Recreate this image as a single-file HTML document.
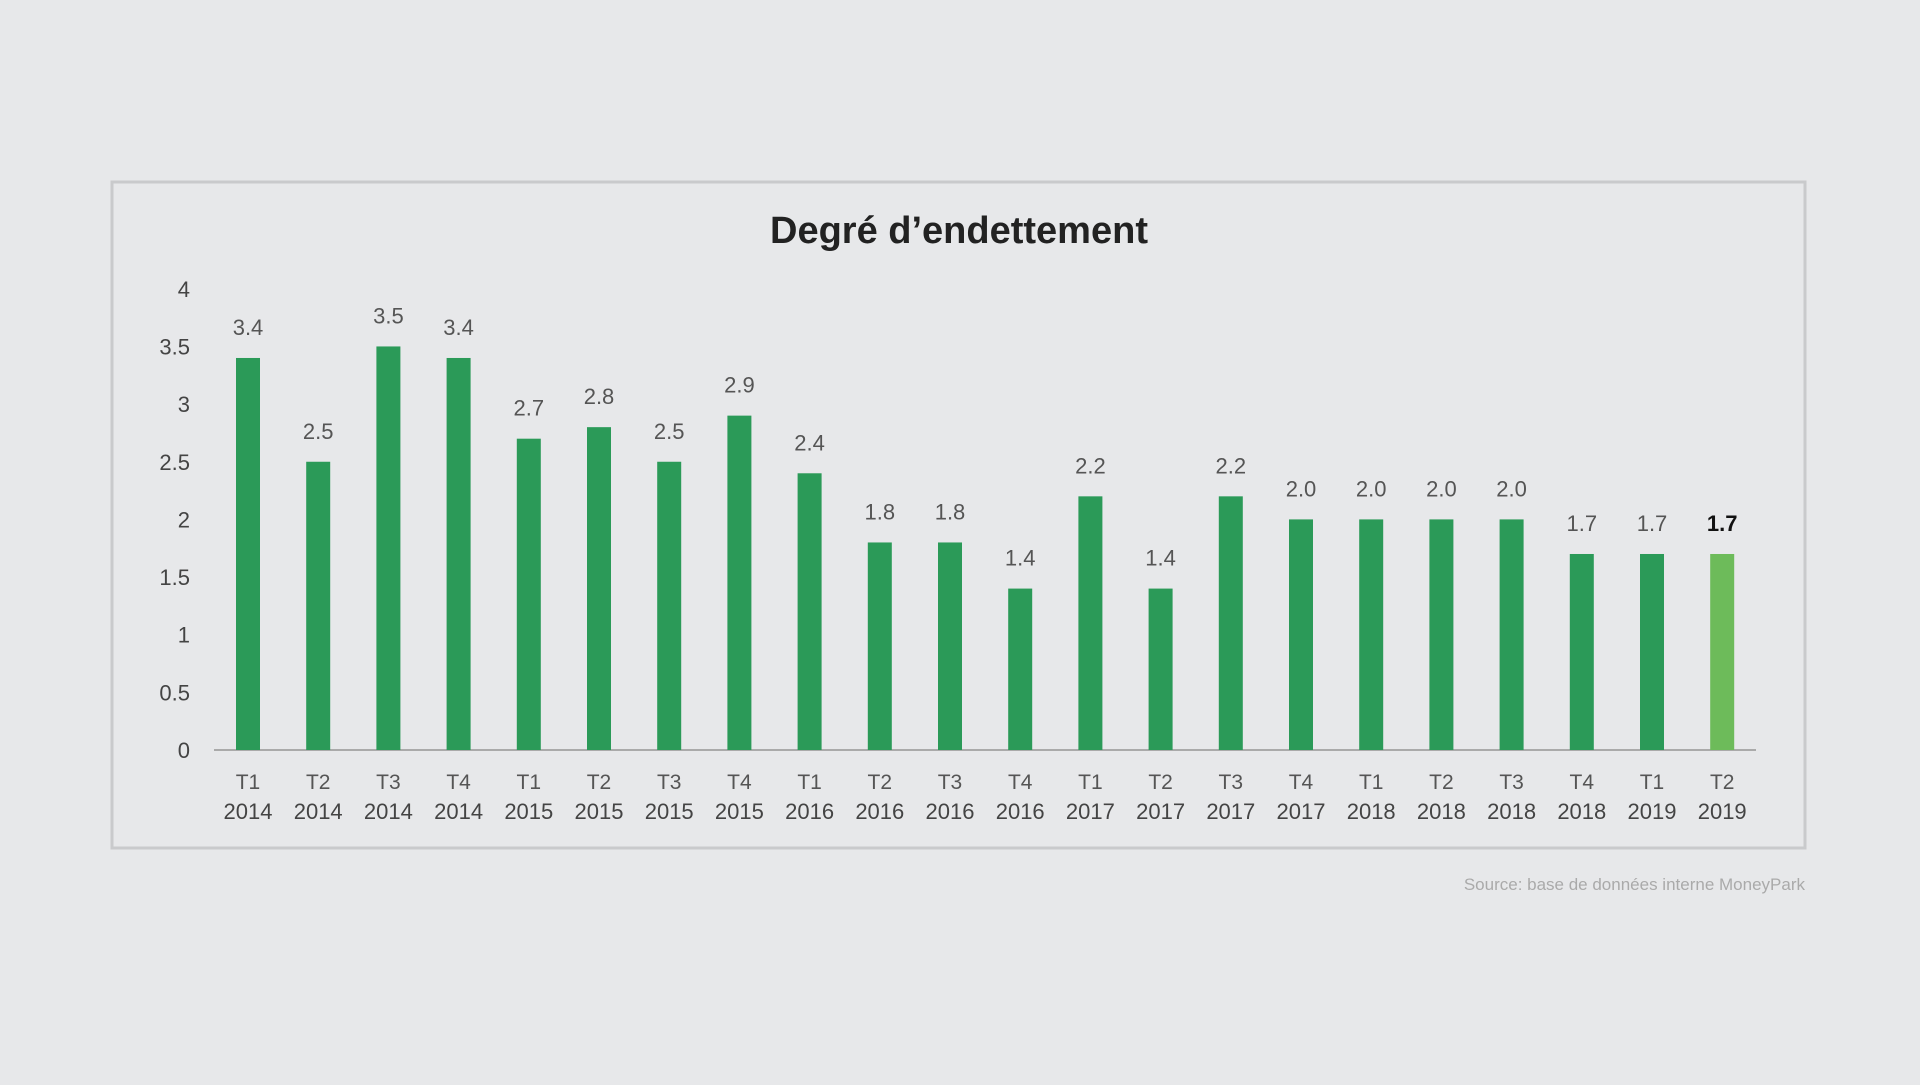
<!DOCTYPE html>
<html><head><meta charset="utf-8"><style>
body{margin:0;background:#e7e8ea;width:1920px;height:1080px;overflow:hidden;font-family:"Liberation Sans",sans-serif}
</style></head><body>
<svg width="1920" height="1080">
<rect x="112" y="182" width="1693" height="666" fill="#e7e8ea" stroke="#c9cacc" stroke-width="3"/>
<text x="959" y="243" text-anchor="middle" font-size="38" font-weight="bold" fill="#222">Degré d’endettement</text>
<line x1="214" y1="750" x2="1756" y2="750" stroke="#aaa" stroke-width="2"/>
<g id="yticks"></g><g id="bars"></g>
<text x="1805" y="890" text-anchor="end" font-size="17" fill="#aaa">Source: base de données interne MoneyPark</text>
</svg>
<script>
const quarters=["T1","T2","T3","T4","T1","T2","T3","T4","T1","T2","T3","T4","T1","T2","T3","T4","T1","T2","T3","T4","T1","T2"];
const years=["2014","2014","2014","2014","2015","2015","2015","2015","2016","2016","2016","2016","2017","2017","2017","2017","2018","2018","2018","2018","2019","2019"];
const values=[3.4,2.5,3.5,3.4,2.7,2.8,2.5,2.9,2.4,1.8,1.8,1.4,2.2,1.4,2.2,2.0,2.0,2.0,2.0,1.7,1.7,1.7];
const valueLabels=["3.4","2.5","3.5","3.4","2.7","2.8","2.5","2.9","2.4","1.8","1.8","1.4","2.2","1.4","2.2","2.0","2.0","2.0","2.0","1.7","1.7","1.7"];
const yTicks=[0,0.5,1,1.5,2,2.5,3,3.5,4];
const NS="http://www.w3.org/2000/svg";
const y=v=>750-v*115.3;
const x=i=>248+i*70.2;
const yt=document.getElementById('yticks'),bg=document.getElementById('bars');
function mk(tag,attrs,parent,txt){const e=document.createElementNS(NS,tag);for(const k in attrs)e.setAttribute(k,attrs[k]);if(txt!==undefined)e.textContent=txt;parent.appendChild(e);return e;}
yTicks.forEach(t=>{const e=mk('text',{x:190,y:y(t)+8,'text-anchor':'end','font-size':22,fill:'#444'},yt,String(t));

});
values.forEach((v,i)=>{const last=i===values.length-1;
const r=mk('rect',{x:x(i)-12,y:y(v),width:24,height:750-y(v),fill:last?'#6dbb5a':'#2b9a58'},bg);


const l=mk('text',{x:x(i),y:y(v)-23,'text-anchor':'middle','font-size':22,fill:last?'#111':'#555','font-weight':last?'bold':'normal'},bg,valueLabels[i]);


const q=mk('text',{x:x(i),y:789,'text-anchor':'middle','font-size':21,fill:'#555'},bg,quarters[i]);


const yr=mk('text',{x:x(i),y:819,'text-anchor':'middle','font-size':22,fill:'#444'},bg,years[i]);

});
</script>
</body></html>
